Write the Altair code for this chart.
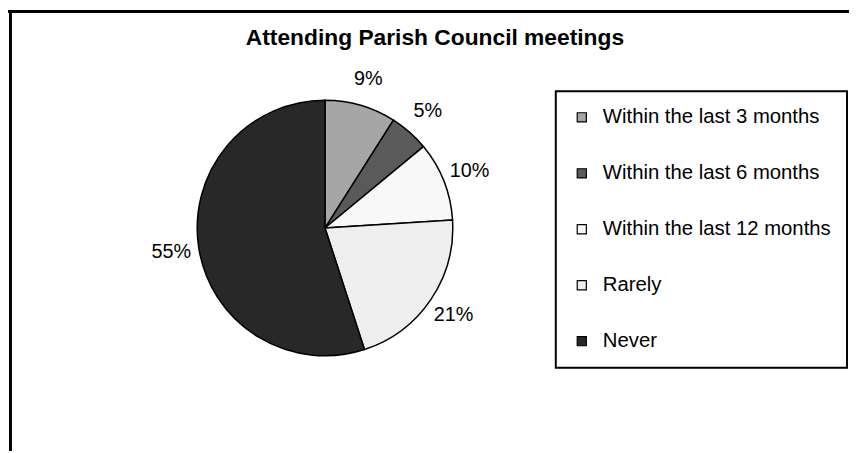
import altair as alt
import pandas as pd

# ---- data ----
categories = [
    "Within the last 3 months",
    "Within the last 6 months",
    "Within the last 12 months",
    "Rarely",
    "Never",
]
values = [9, 5, 10, 21, 55]
labels = ["9%", "5%", "10%", "21%", "55%"]
colors = ["#A6A6A6", "#5A5A5A", "#F8F8F8", "#EEEEEE", "#282828"]
title_text = "Attending Parish Council meetings"

df = pd.DataFrame({
    "idx": list(range(len(categories))),
    "category": categories,
    "value": values,
    "label": labels,
})

FONT = "Liberation Sans"
CX, CY = 320, 220

theta = alt.Theta("value:Q", stack=True)
order = alt.Order("idx:Q", sort="ascending")

arc = alt.Chart(df).mark_arc(outerRadius=129, stroke="black", strokeWidth=1.5).encode(
    theta=theta,
    order=order,
    color=alt.Color(
        "category:N",
        sort=categories,
        scale=alt.Scale(domain=categories, range=colors),
        legend=alt.Legend(
            orient="none",
            legendX=553,
            legendY=82,
            title=None,
            symbolType="square",
            symbolSize=85,
            symbolStrokeColor="black",
            symbolStrokeWidth=1.2,
            symbolOpacity=1,
            labelFont=FONT,
            labelFontSize=20.5,
            labelColor="black",
            labelOffset=11,
            labelLimit=400,
            rowPadding=35.5,
            padding=16,
            strokeColor="black",
        ),
    ),
    x=alt.value(CX),
    y=alt.value(CY),
)

pct = alt.Chart(df).mark_text(radius=157, font=FONT, fontSize=20, color="black").encode(
    theta=theta,
    order=order,
    text="label:N",
    x=alt.value(CX),
    y=alt.value(CY),
)

title = alt.Chart(pd.DataFrame({"t": [title_text]})).mark_text(
    font=FONT, fontSize=23, fontWeight="bold", color="black", align="center", baseline="middle"
).encode(text="t:N", x=alt.value(431), y=alt.value(28))

frame_df = pd.DataFrame({"k": [0]})
top_line = alt.Chart(frame_df).mark_rule(color="black", strokeWidth=3).encode(
    x=alt.value(0), x2=alt.value(849), y=alt.value(1.5)
)
left_line = alt.Chart(frame_df).mark_rule(color="black", strokeWidth=3).encode(
    x=alt.value(2.5), y=alt.value(0), y2=alt.value(445)
)

chart = (
    alt.layer(top_line, left_line, arc, pct, title)
    .properties(width=849, height=445, padding=0, autosize="none", background="white")
    .configure_view(stroke=None)
    .configure_legend(strokeWidth=2)
)

chart.save("out.html", embed_options={"renderer": "svg", "actions": False})
